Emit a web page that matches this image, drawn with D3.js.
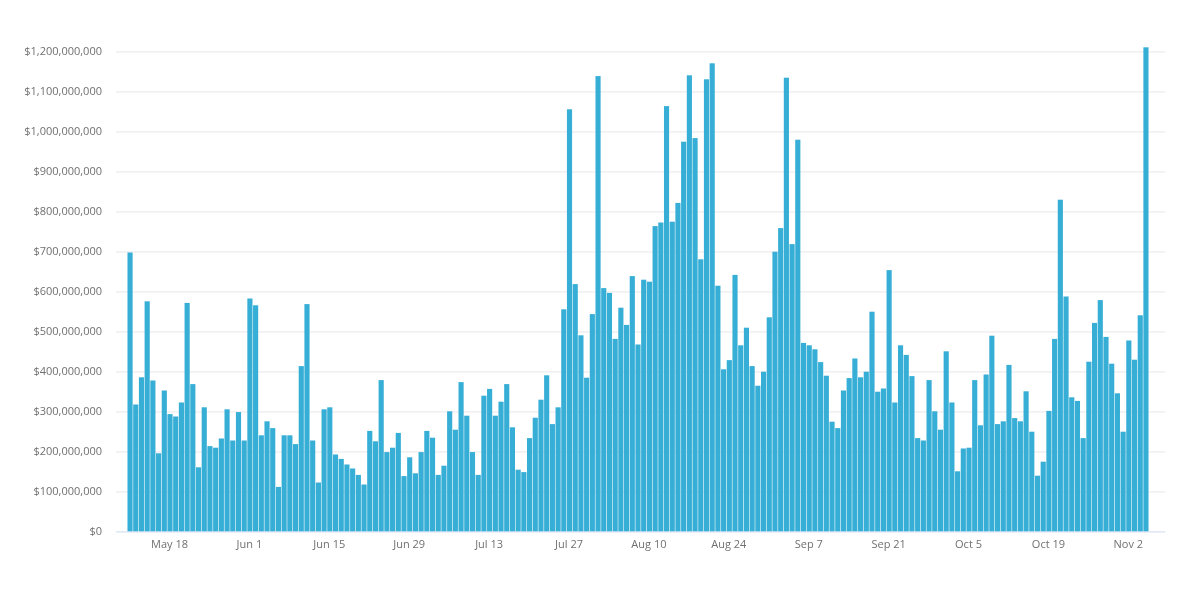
<!DOCTYPE html>
<html>
<head>
<meta charset="utf-8">
<script src="https://cdn.jsdelivr.net/npm/d3@7/dist/d3.min.js"></script>
<style>
html,body{margin:0;padding:0;background:#fff;}
svg{display:block;filter:blur(0.4px);}
text{font-family:"Open Sans",sans-serif;font-size:11px;fill:#707070;}
</style>
</head>
<body>
<svg id="chart" width="1180" height="607"></svg>
<script>
const firstDay = "2014-05-11";
const lastDay = "2014-11-05";
const xTickLabels = ["2014-05-18","2014-06-01","2014-06-15","2014-06-29","2014-07-13","2014-07-27","2014-08-10","2014-08-24","2014-09-07","2014-09-21","2014-10-05","2014-10-19","2014-11-02"];
const yTicks = [0,100,200,300,400,500,600,700,800,900,1000,1100,1200];
// Daily values, in millions of dollars
const values = [
697,317,385,575,377,195,352,293,287,322,571,368,160,310,213,209,232,305,227,298,227,582,565,240,275,258,111,240,240,218,413,568,227,122,305,310,192,181,167,
157,141,117,251,225,378,198,209,246,138,185,145,198,251,234,141,164,300,254,373,289,198,141,339,356,289,324,368,260,154,148,233,284,329,390,268,310,
555,1055,618,490,384,543,1138,608,596,481,559,516,638,467,629,624,763,772,1063,774,821,974,1140,983,680,1130,1170,614,405,428,641,465,509,413,364,399,535,699,758,1134,718,979,
471,465,455,423,389,274,258,352,383,432,385,399,549,349,357,653,322,465,441,388,233,227,378,300,254,450,322,150,
207,209,378,265,392,489,268,275,416,283,275,350,249,139,174,301,481,829,587,335,326,233,424,521,578,486,419,345,249,477,429,540,1210
];

const parse = d3.utcParse("%Y-%m-%d");
const days = d3.utcDay.range(parse(firstDay), d3.utcDay.offset(parse(lastDay), 1));
const rows = days.map((d, i) => ({day: d, value: values[i]}));

const svg = d3.select("#chart");
const x = d3.scaleBand().domain(days).range([127.2, 1148.8]).paddingInner(0.1).paddingOuter(0.05);
const y = d3.scaleLinear().domain([0, 1200]).range([531.3, 51.3]);

const yAxis = d3.axisLeft(y).tickValues(yTicks)
  .tickSize(-1049).tickPadding(14)
  .tickFormat(d => "$" + d3.format(",")(d * 1e6));
const yG = svg.append("g").attr("transform", "translate(116,0)").call(yAxis);
yG.select(".domain").remove();
yG.selectAll(".tick line").attr("stroke", d => d === 0 ? "#d8e0f2" : "#ececf0").attr("stroke-width", 1.3);
yG.selectAll(".tick text").attr("font-size", null).attr("font-family", null);

svg.append("g").selectAll("rect").data(rows).join("rect")
  .attr("x", d => x(d.day))
  .attr("width", x.bandwidth())
  .attr("y", d => y(d.value))
  .attr("height", d => y(0) - y(d.value))
  .attr("fill", "#36aed6");

const xAxis = d3.axisBottom(x).tickValues(xTickLabels.map(parse))
  .tickSize(0).tickPadding(9)
  .tickFormat(d3.utcFormat("%b %-d"));
const xG = svg.append("g").attr("transform", "translate(-0.5,531)").call(xAxis);
xG.select(".domain").remove();
xG.selectAll(".tick text").attr("font-size", null).attr("font-family", null);
</script>
</body>
</html>
